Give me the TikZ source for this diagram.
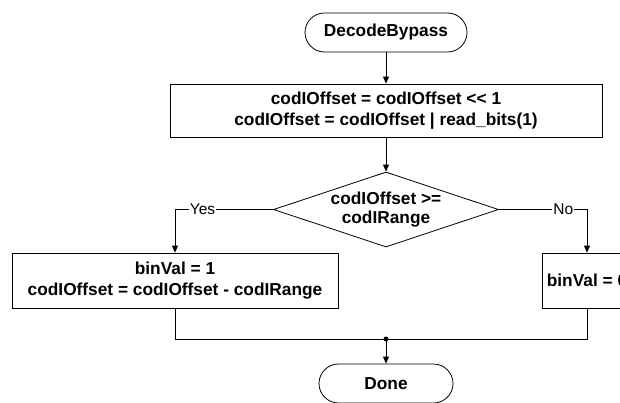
\documentclass[tikz,border=0pt]{standalone}
\usepackage{fontspec}
\setmainfont{Liberation Sans}[Ligatures=TeXOff]
\usetikzlibrary{shapes.geometric,arrows.meta}
\begin{document}
\begin{tikzpicture}[x=1pt,y=-1pt,
  every node/.style={font=\fontsize{17.3}{21.5}\selectfont\bfseries, align=center, inner sep=0pt},
  term/.style={draw, line width=0.8pt, rounded corners=19.5pt, minimum height=39pt},
  proc/.style={draw, line width=0.8pt},
  dec/.style={draw, line width=0.8pt, shape=diamond, aspect=3, minimum width=225pt, minimum height=75pt},
  conn/.style={line width=0.8pt},
  arr/.style={conn, -{Triangle[length=7pt,width=6pt]}},
  lbl/.style={fill=white, font=\fontsize{15.5}{18}\selectfont, inner xsep=1pt, inner ysep=1pt}
]
\useasboundingbox (0,0) rectangle (620,402);
\clip (0,0) rectangle (620,402);
\node[term, minimum width=162pt] (start) at (386,32.5) {DecodeBypass};
\node[proc, minimum width=432pt, minimum height=53pt] (init) at (386,110.5) {codIOffset = codIOffset << 1\\codIOffset = codIOffset | read\_bits(1)};
\node[dec] (cond) at (386,209.5) {codIOffset >=\\[-2pt]codIRange};
\node[proc, minimum width=326pt, minimum height=55pt] (yesbox) at (175,280.5) {binVal = 1\\codIOffset = codIOffset - codIRange};
\node[proc, minimum width=90pt, minimum height=55pt] (nobox) at (587,280.5) {binVal = 0};
\node[term, minimum width=134pt] (done) at (386,383.5) {Done};
\coordinate (j) at (386,339);
\draw[arr] (start) -- (init);
\draw[arr] (init) -- (cond);
\draw[arr] (cond.west) -| node[lbl, pos=0.36] {Yes} (yesbox.north);
\draw[arr] (cond.east) -| node[lbl, pos=0.365] {No} (nobox.north);
\draw[conn] (yesbox.south) |- (j);
\draw[conn] (nobox.south) |- (j);
\fill (j) circle (2.5pt);
\draw[arr] (j) -- (done);
\end{tikzpicture}
\end{document}
